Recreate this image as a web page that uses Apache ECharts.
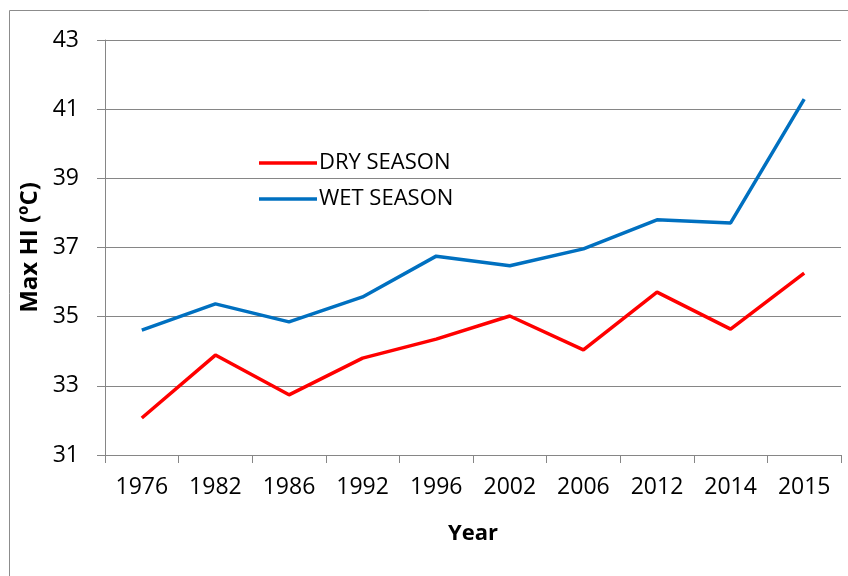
<!DOCTYPE html>
<html><head><meta charset="utf-8">
<script src="https://cdn.jsdelivr.net/npm/echarts@6/dist/echarts.min.js"></script>
<style>html,body{margin:0;padding:0;background:#fff}#c{width:848px;height:576px}</style>
</head><body><div id="c"></div>
<script>
var years = ['1976','1982','1986','1992','1996','2002','2006','2012','2014','2015'];
var drySeason = [32.07, 33.89, 32.74, 33.8, 34.35, 35.02, 34.04, 35.71, 34.64, 36.26];
var wetSeason = [34.61, 35.37, 34.85, 35.57, 36.75, 36.47, 36.96, 37.8, 37.71, 41.29];
var yTicks = [31, 33, 35, 37, 39, 41, 43];

var FONT = 'Open Sans';
var chart = echarts.init(document.getElementById('c'), null, {renderer: 'canvas'});
chart.setOption({
  animation: false,
  textStyle: {fontFamily: FONT},
  graphic: [{
    type: 'rect', shape: {x: 9.5, y: 10.5, width: 850, height: 580},
    style: {fill: 'none', stroke: '#8c8c8c', lineWidth: 1}, silent: true
  }],
  grid: {left: 105, right: 7, top: 40, bottom: 121, containLabel: false},
  legend: {
    orient: 'vertical', left: 254, top: 147, itemWidth: 58, itemHeight: 14, itemGap: 14,
    icon: 'path://M0,0 L58,0 L58,3.5 L0,3.5 Z',
    textStyle: {fontFamily: FONT, fontSize: 22, color: '#000', padding: [0, 0, 0, -3]},
    data: ['DRY SEASON', 'WET SEASON']
  },
  xAxis: {
    type: 'category', data: years, boundaryGap: true,
    name: 'Year', nameLocation: 'middle', nameGap: 68,
    nameTextStyle: {fontFamily: FONT, fontSize: 22, fontWeight: 'bold', color: '#000'},
    axisLine: {lineStyle: {color: '#868686', width: 1}},
    axisTick: {show: true, length: 8, alignWithLabel: false, lineStyle: {color: '#868686'}},
    axisLabel: {fontFamily: FONT, fontSize: 23, color: '#000', margin: 21},
    splitLine: {show: false}
  },
  yAxis: {
    type: 'value', min: 31, max: 43, interval: 2,
    name: 'Max HI (ºC)', nameLocation: 'middle', nameGap: 60, nameRotate: 90,
    nameTextStyle: {fontFamily: FONT, fontSize: 24, fontWeight: 'bold', color: '#000'},
    axisLine: {show: true, lineStyle: {color: '#868686', width: 1}},
    axisTick: {show: true, length: 8, lineStyle: {color: '#868686'}},
    axisLabel: {fontFamily: FONT, fontSize: 23, color: '#000', margin: 26,
      formatter: function (v) { return yTicks.indexOf(v) >= 0 ? String(v) : ''; }},
    splitLine: {show: true, lineStyle: {color: '#868686', width: 1}}
  },
  series: [
    {name: 'DRY SEASON', type: 'line', data: drySeason, symbol: 'none',
     lineStyle: {color: '#FF0000', width: 3.5}, itemStyle: {color: '#FF0000'}},
    {name: 'WET SEASON', type: 'line', data: wetSeason, symbol: 'none',
     lineStyle: {color: '#0070C0', width: 3.5}, itemStyle: {color: '#0070C0'}}
  ]
});
</script></body></html>
